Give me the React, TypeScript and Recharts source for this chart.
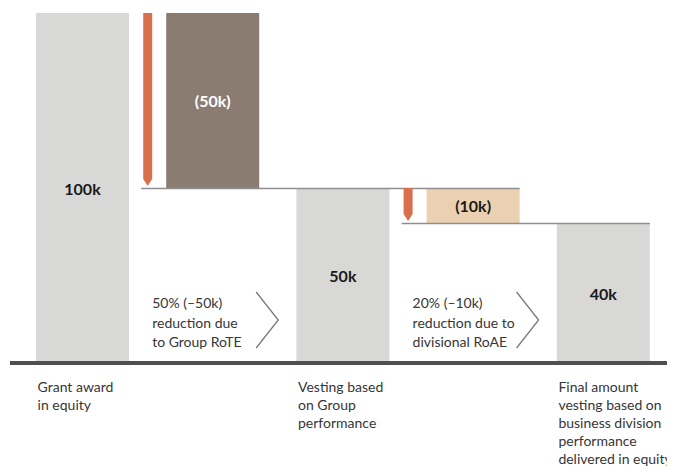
import React from "react";
import { BarChart, Bar, XAxis, YAxis, LabelList } from "recharts";

// ---- data ----
const stepIds = ["grant", "rote", "vesting", "roae", "final"];
const stepKinds = ["total", "reduction", "total", "reduction", "total"];
const barBase = [0, 50, 0, 40, 0];
const barTop = [100, 100, 50, 50, 40];
const valueLabels = ["100k", "(50k)", "50k", "(10k)", "40k"];
const axisLabels: string[][] = [
  ["Grant award", "in equity"],
  [],
  ["Vesting based", "on Group", "performance"],
  [],
  ["Final amount", "vesting based on", "business division", "performance", "delivered in equity"],
];
const noteLabels: string[][] = [
  [],
  ["50% (–50k)", "reduction due", "to Group RoTE"],
  [],
  ["20% (–10k)", "reduction due to", "divisional RoAE"],
  [],
];

const data = stepIds.map((id, i) => ({ id, range: [barBase[i], barTop[i]] }));

// ---- style / layout ----
const CHART_W = 667;
const CHART_H = 464;
const MARGIN = { top: 5, right: 0, bottom: 0, left: 2 };
const PAD = { left: 7, right: 7 };
const BAR_SIZE = 93;
const AXIS_H = 109;
const BAND = (CHART_W - MARGIN.left - MARGIN.right - PAD.left - PAD.right) / stepIds.length;
const FONT = "Lato, 'Liberation Sans', sans-serif";

const FILLS = ["#d8d8d6", "#8b7c72", "#d8d8d6", "#ebd0b1", "#d8d8d6"];
const LABEL_COLORS = ["#1a1a1a", "#ffffff", "#1a1a1a", "#1a1a1a", "#1a1a1a"];
const ARROW = "#d8704e";
const LINE = "#8f8f8f";
const TEXT = "#363636";

const StepShape = (props: any) => {
  const { x, y, width, height, index } = props;
  return <rect x={x} y={y} width={width} height={height} fill={FILLS[index]} />;
};

const Overlay = (props: any) => {
  const vb = props.viewBox ?? props;
  const x = vb.x ?? props.x;
  const y = vb.y ?? props.y;
  const width = vb.width ?? props.width;
  const height = vb.height ?? props.height;
  const i = props.index;
  if (x == null || i == null) return null;
  const low = barBase[i];
  const high = barTop[i];
  const ppu = height / (high - low);
  const zeroY = y + height + low * ppu;
  const bottom = y + height;
  const parts: React.ReactNode[] = [];

  if (stepKinds[i] === "reduction") {
    // connector at the reduced level, running to the last bar sharing that level
    let j = i;
    for (let k = i + 1; k < barTop.length; k++) if (barTop[k] === low) j = k;
    const lineEnd = x + (j - i) * BAND + width;
    const ax = x - 23;
    const aw = 9;
    parts.push(
      <line key="conn" x1={ax - 2} x2={lineEnd} y1={bottom + 0.5} y2={bottom + 0.5} stroke={LINE} strokeWidth={1.5} />
    );
    const tip = bottom - 2;
    parts.push(
      <polygon
        key="arrow"
        points={`${ax},${y} ${ax + aw},${y} ${ax + aw},${tip - 7} ${ax + aw / 2},${tip} ${ax},${tip - 7}`}
        fill={ARROW}
      />
    );
    const notes = noteLabels[i];
    parts.push(
      <text key="note" fontFamily={FONT} fontSize={14} fill={TEXT}>
        {notes.map((t, k) => (
          <tspan key={k} x={x - 14} y={zeroY - 55 + k * 19.5}>
            {t}
          </tspan>
        ))}
      </text>
    );
    parts.push(
      <polyline
        key="chev"
        points={`${x + 90},${zeroY - 71} ${x + 112},${zeroY - 43} ${x + 90},${zeroY - 15}`}
        fill="none"
        stroke="#7a7a7a"
        strokeWidth={1.3}
      />
    );
  }
  parts.push(
    <text
      key="val"
      x={x + width / 2}
      y={y + height / 2}
      textAnchor="middle"
      dominantBaseline="central"
      fontFamily={FONT}
      fontWeight={700}
      fontSize={16}
      fill={LABEL_COLORS[i]}
    >
      {valueLabels[i]}
    </text>
  );
  return <g>{parts}</g>;
};

const CategoryTick = (props: any) => {
  const { x, y, payload } = props;
  const i = stepIds.indexOf(payload.value);
  const lines = axisLabels[i] ?? [];
  const left = x - BAR_SIZE / 2 + 2;
  return (
    <text fontFamily={FONT} fontSize={14} fill={TEXT}>
      {lines.map((t, k) => (
        <tspan key={k} x={left} y={y + 29 + k * 18}>
          {t}
        </tspan>
      ))}
    </text>
  );
};

export default function App() {
  return (
    <div style={{ width: CHART_W, height: CHART_H, fontFamily: FONT }}>
      <BarChart width={CHART_W} height={CHART_H} data={data} margin={MARGIN}>
        <XAxis
          dataKey="id"
          type="category"
          padding={PAD}
          height={AXIS_H}
          tickLine={false}
          tickSize={0}
          tickMargin={0}
          interval={0}
          axisLine={{ stroke: "#4f4f4f", strokeWidth: 4 }}
          tick={<CategoryTick />}
        />
        <YAxis hide type="number" domain={[0, 100]} />
        <Bar dataKey="range" barSize={BAR_SIZE} shape={<StepShape />} isAnimationActive={false}>
          <LabelList dataKey="range" content={<Overlay />} />
        </Bar>
      </BarChart>
    </div>
  );
}
